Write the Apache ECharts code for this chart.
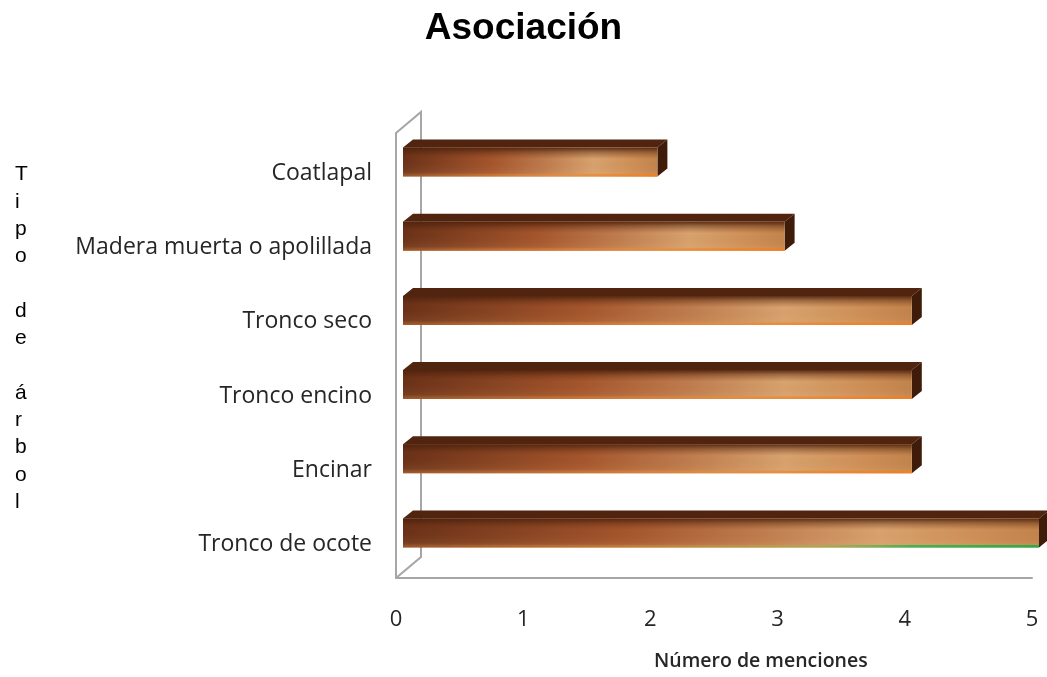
<!DOCTYPE html>
<html>
<head>
<meta charset="utf-8">
<script src="https://cdn.jsdelivr.net/npm/echarts@6/dist/echarts.min.js"></script>
<style>
  html, body { margin: 0; padding: 0; background: #ffffff; }
  #chart { width: 1047px; height: 677px; }
</style>
</head>
<body>
<div id="chart"></div>
<script>
// Tree types where the association was mentioned (top to bottom)
const categories = ['Coatlapal', 'Madera muerta o apolillada', 'Tronco seco', 'Tronco encino', 'Encinar', 'Tronco de ocote'];
const mentions = [2, 3, 4, 4, 4, 5];
const xTicks = [0, 1, 2, 3, 4, 5];

const titleText = 'Asociación';
const xAxisTitle = 'Número de menciones';
const yAxisTitle = 'Tipo de árbol';

// Bar drawn with a green lower edge
const accentCategory = 'Tronco de ocote';

const chart = echarts.init(document.getElementById('chart'), null, { renderer: 'canvas' });

// Pseudo-3D box bar: front face, top face and right face
function renderBar(params, api) {
  const catIdx = api.value(1);
  const end = api.coord([api.value(0), catIdx]);
  const start = api.coord([0, catIdx]);
  const band = api.size([0, 1])[1];
  const h = band * 0.39;
  const shiftX = 7, shiftY = -8;      // bar sits half-way into the depth of the plot
  const dx = 10, dy = 8;              // depth of the box
  const x0 = start[0] + shiftX, x1 = end[0] + shiftX;
  const cy = end[1] + shiftY;
  const y0 = cy - h / 2, y1 = cy + h / 2;
  const w = x1 - x0;
  const accent = categories[catIdx] === accentCategory;

  const children = [
    {
      type: 'polygon',
      shape: { points: [[x0, y0], [x0 + dx, y0 - dy], [x1 + dx, y0 - dy], [x1, y0]] },
      style: { fill: '#50240f' }
    },
    {
      type: 'polygon',
      shape: { points: [[x1, y0], [x1 + dx, y0 - dy], [x1 + dx, y1 - dy], [x1, y1]] },
      style: { fill: '#3f1b09' }
    },
    {
      type: 'rect',
      shape: { x: x0, y: y0, width: w, height: h },
      style: {
        fill: new echarts.graphic.LinearGradient(0, 0, 1, 0, [
          { offset: 0, color: '#6a3118' },
          { offset: 0.35, color: '#a4552c' },
          { offset: 0.55, color: '#bd7a4c' },
          { offset: 0.75, color: '#d8a36f' },
          { offset: 0.9, color: '#cf9058' },
          { offset: 1, color: '#c2844c' }
        ])
      }
    },
    {
      type: 'rect',
      shape: { x: x0, y: y0, width: w, height: h },
      style: {
        fill: new echarts.graphic.LinearGradient(0, 0, 0, 1, [
          { offset: 0, color: 'rgba(78,34,12,0.9)' },
          { offset: 0.15, color: 'rgba(78,34,12,0.45)' },
          { offset: 0.4, color: 'rgba(120,60,25,0.0)' },
          { offset: 0.85, color: 'rgba(230,170,110,0.1)' },
          { offset: 1, color: 'rgba(235,140,55,0.45)' }
        ])
      }
    },
    {
      type: 'rect',
      shape: { x: x0, y: y1 - 2.5, width: w, height: 2.5 },
      style: {
        fill: new echarts.graphic.LinearGradient(0, 0, 1, 0, accent ? [
          { offset: 0, color: 'rgba(230,130,50,0)' },
          { offset: 0.65, color: 'rgba(150,180,90,0.6)' },
          { offset: 0.8, color: '#3cb65a' },
          { offset: 1, color: '#22b04c' }
        ] : [
          { offset: 0, color: 'rgba(230,130,50,0)' },
          { offset: 0.6, color: 'rgba(235,140,55,0.5)' },
          { offset: 1, color: '#ec8128' }
        ])
      }
    }
  ];
  return { type: 'group', children };
}

const option = {
  animation: false,
  backgroundColor: '#ffffff',
  title: {
    text: titleText,
    left: 'center',
    top: 5,
    textStyle: { fontFamily: 'Liberation Sans', fontWeight: 'bold', fontSize: 37, color: '#000000' }
  },
  grid: { left: 396, right: 15, top: 133, bottom: 99, containLabel: false },
  xAxis: {
    type: 'value',
    min: 0,
    max: xTicks[xTicks.length - 1],
    interval: 1,
    axisLine: { show: true, lineStyle: { color: '#a6a6a6', width: 2 } },
    axisTick: { show: false },
    splitLine: { show: false },
    axisLabel: {
      margin: 31,
      fontFamily: 'Open Sans',
      fontSize: 22,
      color: '#262626',
      formatter: function (v) { return xTicks.indexOf(v) >= 0 ? String(v) : ''; }
    }
  },
  yAxis: {
    type: 'category',
    inverse: true,
    data: categories,
    axisLine: { show: true, lineStyle: { color: '#a6a6a6', width: 2 } },
    axisTick: { show: false },
    axisLabel: {
      margin: 24,
      formatter: '{c|{value}}',
      rich: {
        c: {
          fontFamily: 'Open Sans',
          fontSize: 23,
          color: '#262626',
          padding: [7, 0, 0, 0]
        }
      }
    }
  },
  series: [{
    type: 'custom',
    renderItem: renderBar,
    encode: { x: 0, y: 1 },
    data: mentions.map((v, i) => [v, i]),
    clip: false,
    z: 3
  }]
};

chart.setOption(option);

// Back wall of the plot box, tied to the grid corners
const gridRect = chart.getModel().getComponent('grid', 0).coordinateSystem.getRect();
const wx = 25, wy = -21;
const gx = gridRect.x, gTop = gridRect.y, gBottom = gridRect.y + gridRect.height;
chart.setOption({
  graphic: [
    {
      type: 'polyline',
      z: 1,
      shape: { points: [[gx, gTop], [gx + wx, gTop + wy], [gx + wx, gBottom + wy], [gx, gBottom]] },
      style: { stroke: '#a6a6a6', lineWidth: 2, fill: null }
    },
    {
      type: 'text',
      left: 15,
      top: 161,
      style: {
        text: yAxisTitle.split('').join('\n'),
        fontFamily: 'Liberation Sans',
        fontSize: 21,
        lineHeight: 27.3,
        fill: '#000000',
        align: 'center'
      }
    },
    {
      type: 'text',
      left: 654,
      top: 651,
      style: {
        text: xAxisTitle,
        fontFamily: 'Open Sans',
        fontSize: 19.5,
        fontWeight: 600,
        fill: '#262626'
      }
    }
  ]
});
</script>
</body>
</html>
